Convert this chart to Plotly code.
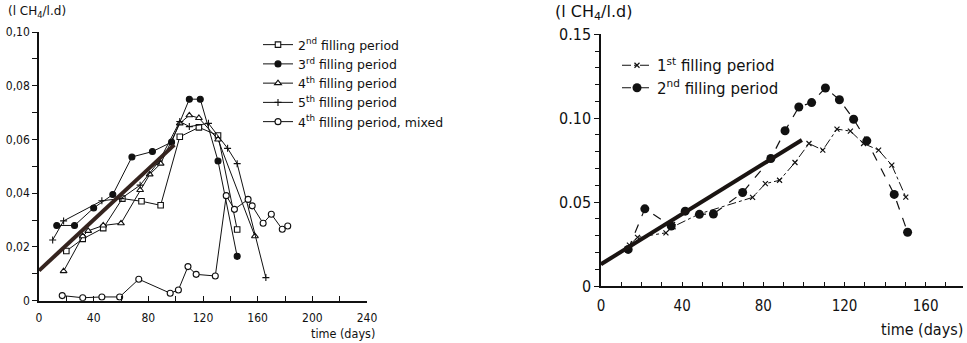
import plotly.graph_objects as go

# ---- left panel: methane production, filling periods 2-5 ----
p2_day = [20, 32, 47, 61, 75, 89, 103, 117, 131, 145]
p2_val = [0.0185, 0.023, 0.027, 0.038, 0.037, 0.0355, 0.061, 0.0645, 0.0615, 0.0265]

p3_day = [13, 26, 40, 54, 68, 83, 97, 110, 118, 131, 145]
p3_val = [0.028, 0.028, 0.0345, 0.0395, 0.0535, 0.0555, 0.059, 0.075, 0.075, 0.052, 0.0165]

p4_day = [18, 32, 36, 47, 60, 74, 81, 89, 103, 110, 117, 131, 158]
p4_val = [0.011, 0.024, 0.026, 0.028, 0.0288, 0.0412, 0.047, 0.051, 0.066, 0.069, 0.068, 0.060, 0.024]

p5_day = [10, 18, 46, 60, 74, 88, 103, 110, 124, 138, 145, 166]
p5_val = [0.0226, 0.0297, 0.0372, 0.038, 0.043, 0.052, 0.0667, 0.0648, 0.066, 0.0567, 0.051, 0.0086]

p4m_day = [17, 32, 46, 59, 73, 96, 102, 109, 115, 129, 137, 143, 153, 156, 164, 170, 178, 182]
p4m_val = [0.0019, 0.0011, 0.0014, 0.0014, 0.008, 0.0028, 0.004, 0.0127, 0.0098, 0.0092,
           0.0391, 0.034, 0.0377, 0.0353, 0.0288, 0.0322, 0.0266, 0.0278]

left_fit_day = [0, 99]
left_fit_val = [0.0112, 0.058]

left_xticks = [0, 40, 80, 120, 160, 200, 240]
left_yticks = [0, 0.02, 0.04, 0.06, 0.08, 0.10]
left_ytext = ["0", "0,02", "0,04", "0,06", "0,08", "0,10"]

# ---- right panel: filling periods 1-2 ----
r1_day = [14, 18, 32, 35.5, 48.5, 74.7, 81, 88, 95.6, 102.5, 109.3, 116.3, 122.9, 129.4, 136.8, 143.3, 150.2]
r1_val = [0.0244, 0.029, 0.0317, 0.0353, 0.043, 0.0528, 0.061, 0.063, 0.0736, 0.0849, 0.081,
          0.0935, 0.0923, 0.0849, 0.081, 0.072, 0.053]

r2_day = [13.4, 21.6, 34.6, 41.5, 48.5, 55.4, 69.8, 83.7, 90.7, 97.5, 103.8, 110.6, 117.5, 124.5, 131, 144.5, 151.1]
r2_val = [0.0218, 0.046, 0.0357, 0.0446, 0.0427, 0.0429, 0.0557, 0.076, 0.0925, 0.1067, 0.1093,
          0.118, 0.111, 0.0994, 0.0865, 0.0546, 0.032]

right_fit_day = [0, 99]
right_fit_val = [0.013, 0.087]

right_xticks = [0, 40, 80, 120, 160]
right_yticks = [0, 0.05, 0.10, 0.15]
right_ytext = ["0", "0.05", "0.10", "0.15"]

INK = "#111111"
FONT = "DejaVu Sans Condensed"
WIDE = "DejaVu Sans"

fig = go.Figure()

def left_series(x, y, name, symbol, size=6, fill=INK):
    fig.add_trace(go.Scatter(
        x=x, y=y, name=name, mode="lines+markers", xaxis="x", yaxis="y",
        line=dict(color=INK, width=1),
        marker=dict(symbol=symbol, size=size, color=fill, line=dict(color=INK, width=1.1)),
        legend="legend",
    ))

left_series(p2_day, p2_val, "2<sup>nd</sup> filling period", "square", size=5.5, fill="white")
left_series(p3_day, p3_val, "3<sup>rd</sup> filling period", "circle", size=6)
left_series(p4_day, p4_val, "4<sup>th</sup> filling period", "triangle-up", size=6, fill="white")
left_series(p5_day, p5_val, "5<sup>th</sup> filling period", "cross-thin", size=5)
left_series(p4m_day, p4m_val, "4<sup>th</sup> filling period, mixed", "circle", size=6, fill="white")

fig.add_trace(go.Scatter(
    x=left_fit_day, y=left_fit_val, mode="lines", xaxis="x", yaxis="y", showlegend=False,
    line=dict(color="#35241f", width=4),
))

fig.add_trace(go.Scatter(
    x=r1_day, y=r1_val, name="1<sup>st</sup> filling period", mode="lines+markers",
    xaxis="x2", yaxis="y2", legend="legend2",
    line=dict(color=INK, width=1, dash="dashdot"),
    marker=dict(symbol="x-thin", size=5, color=INK, line=dict(color=INK, width=1.2)),
))
fig.add_trace(go.Scatter(
    x=r2_day, y=r2_val, name="2<sup>nd</sup> filling period", mode="lines+markers",
    xaxis="x2", yaxis="y2", legend="legend2",
    line=dict(color=INK, width=1.2, dash="dash"),
    marker=dict(symbol="circle", size=9, color=INK),
))
fig.add_trace(go.Scatter(
    x=right_fit_day, y=right_fit_val, mode="lines", xaxis="x2", yaxis="y2", showlegend=False,
    line=dict(color="#1a1412", width=4),
))

axis_common = dict(showgrid=False, zeroline=False, showline=True, linecolor=INK, linewidth=1.5,
                   tickcolor=INK, tickfont=dict(family=FONT, color=INK), automargin=False)

fig.update_layout(
    width=967, height=343, margin=dict(l=0, r=0, t=0, b=0, pad=0, autoexpand=False),
    paper_bgcolor="white", plot_bgcolor="white",
    font=dict(family=FONT, color=INK),
    xaxis=dict(**axis_common, domain=[39 / 967, 367 / 967], range=[0, 240], anchor="y",
               tickvals=left_xticks, ticks="inside", ticklen=5, tickwidth=1,
               tickfont_size=12, ticklabelstandoff=5,
               minor=dict(dtick=20, ticks="inside", ticklen=5, tickcolor=INK, showgrid=False)),
    yaxis=dict(**axis_common, domain=[(343 - 300.7) / 343, (343 - 32) / 343], range=[0, 0.10],
               anchor="x", tickvals=left_yticks, ticktext=left_ytext, ticks="outside",
               ticklen=5, tickwidth=1, tickfont_size=12,
               minor=dict(dtick=0.01, ticks="outside", ticklen=5, tickcolor=INK, showgrid=False)),
    xaxis2=dict(**axis_common, domain=[601 / 967, 963 / 967], range=[0, 178.4], anchor="y2",
                tickvals=right_xticks, ticks="inside", ticklen=4, tickwidth=1,
                tickfont_size=15, ticklabelstandoff=5,
                minor=dict(dtick=10, ticks="inside", ticklen=4, tickcolor=INK, showgrid=False)),
    yaxis2=dict(**axis_common, domain=[(343 - 286) / 343, (343 - 34.3) / 343], range=[0, 0.15],
                anchor="x2", tickvals=right_yticks, ticktext=right_ytext, ticks="outside",
                ticklen=5, tickwidth=1, tickfont_size=16,
                minor=dict(dtick=0.01, ticks="outside", ticklen=4, tickcolor=INK, showgrid=False)),
    legend=dict(x=258 / 967, y=(343 - 30) / 343, xanchor="left", yanchor="top",
                bgcolor="rgba(0,0,0,0)", font=dict(family=WIDE, size=12.5, color=INK),
                itemwidth=30, tracegroupgap=0),
    legend2=dict(x=617 / 967, y=(343 - 49) / 343, xanchor="left", yanchor="top",
                 bgcolor="rgba(0,0,0,0)", font=dict(family=WIDE, size=15, color=INK),
                 itemwidth=30, tracegroupgap=0),
    showlegend=True,
)

fig.add_annotation(text="(l CH<sub>4</sub>/l.d)", xref="paper", yref="paper",
                   x=6 / 967, y=1 - 12 / 343, xanchor="left", yanchor="middle", showarrow=False,
                   font=dict(family=WIDE, size=12, color=INK))
fig.add_annotation(text="(l CH<sub>4</sub>/l.d)", xref="paper", yref="paper",
                   x=553 / 967, y=1 - 13 / 343, xanchor="left", yanchor="middle", showarrow=False,
                   font=dict(family=WIDE, size=16, color=INK))
fig.add_annotation(text="time (days)", xref="paper", yref="paper",
                   x=377 / 967, y=1 - 333 / 343, xanchor="right", yanchor="middle", showarrow=False,
                   font=dict(family=FONT, size=12.5, color=INK))
fig.add_annotation(text="time (days)", xref="paper", yref="paper",
                   x=965 / 967, y=1 - 329 / 343, xanchor="right", yanchor="middle", showarrow=False,
                   font=dict(family=FONT, size=16, color=INK))

fig.write_html("out.html")
